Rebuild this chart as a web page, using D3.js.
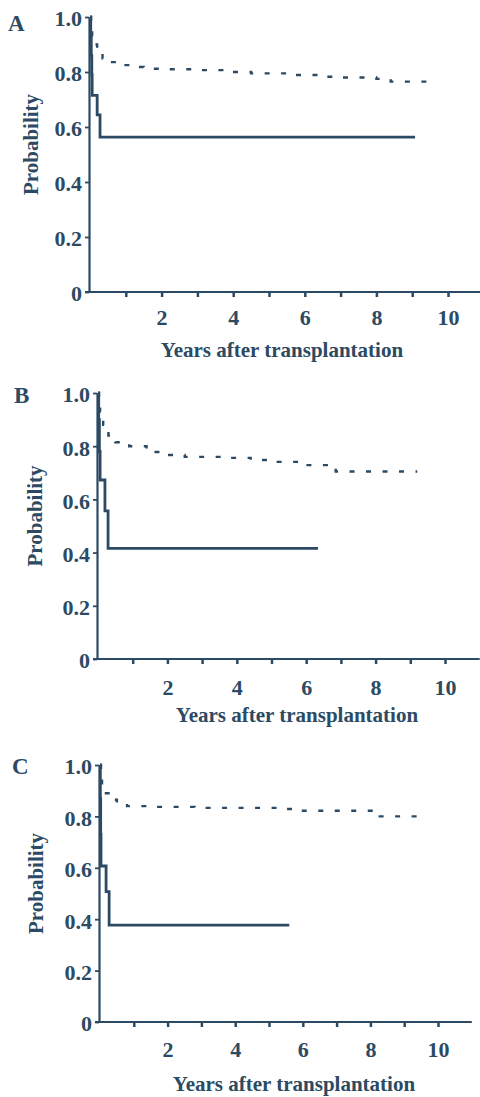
<!DOCTYPE html>
<html><head><meta charset="utf-8">
<script src="https://cdn.jsdelivr.net/npm/d3@7"></script>
<style>
body{margin:0;background:#fff}
svg{display:block}
text{font-family:"Liberation Serif","Times New Roman",serif;font-weight:bold;fill:#2c4a63}
</style>
</head><body><svg id="c" width="480" height="1097"></svg>
<script>
// ---- data ----
const panelLetters = ["A", "B", "C"];
const xTickValues = [1, 2, 3, 4, 5, 6, 7, 8, 9, 10];
const xTickLabels = ["", "2", "", "4", "", "6", "", "8", "", "10"];
const yTickValues = [0, 0.2, 0.4, 0.6, 0.8, 1.0];
const yTickLabels = ["0", "0.2", "0.4", "0.6", "0.8", "1.0"];
const xTitle = "Years after transplantation";
const yTitle = "Probability";

// Panel A
const solidA_years = [0, 0.02, 0.035, 0.05, 0.06, 0.2, 0.28, 9.08];
const solidA_prob  = [1.0, 0.93, 0.86, 0.79, 0.715, 0.644, 0.563, 0.563];
const dashA_years = [0, 0.03, 0.06, 0.1, 0.2, 0.35, 0.55, 0.8, 1.1, 1.5, 2.0, 3.0, 3.8, 4.5, 5.5, 6.5, 7.0, 8.0, 8.4, 9.5];
const dashA_prob  = [1.0, 0.96, 0.93, 0.90, 0.87, 0.85, 0.836, 0.825, 0.818, 0.812, 0.81, 0.807, 0.80, 0.795, 0.789, 0.783, 0.78, 0.775, 0.765, 0.765];

// Panel B
const solidB_years = [0, 0.02, 0.04, 0.06, 0.2, 0.29, 6.34];
const solidB_prob  = [1.0, 0.9, 0.78, 0.673, 0.557, 0.416, 0.416];
const dashB_years = [0, 0.03, 0.06, 0.15, 0.3, 0.5, 0.9, 1.4, 1.8, 2.5, 3.6, 4.4, 5.1, 5.8, 6.85, 9.2];
const dashB_prob  = [1.0, 0.96, 0.93, 0.88, 0.84, 0.815, 0.80, 0.778, 0.767, 0.76, 0.756, 0.748, 0.741, 0.729, 0.705, 0.705];

// Panel C
const solidC_years = [0, 0.01, 0.02, 0.03, 0.18, 0.27, 5.6];
const solidC_prob  = [1.0, 0.87, 0.73, 0.607, 0.507, 0.377, 0.377];
const dashC_years = [0, 0.03, 0.06, 0.1, 0.3, 0.5, 0.8, 1.4, 2.8, 5.4, 5.8, 8.1, 9.7];
const dashC_prob  = [1.0, 0.95, 0.92, 0.89, 0.865, 0.85, 0.84, 0.837, 0.833, 0.829, 0.822, 0.80, 0.80];

// ---- layout ----
const panels = [
  {letter: panelLetters[0], left: 90, pxPerYear: 35.8, top: 17, bottom: 292,
   solid: [solidA_years, solidA_prob], dash: [dashA_years, dashA_prob],
   letterPos: [8, 31], yTitleX: 38, titleX: 282, titleY: 357, tickLabelDy: 33},
  {letter: panelLetters[1], left: 98, pxPerYear: 34.7, top: 393, bottom: 659,
   solid: [solidB_years, solidB_prob], dash: [dashB_years, dashB_prob],
   letterPos: [14, 403], yTitleX: 42, titleX: 297, titleY: 722, tickLabelDy: 36},
  {letter: panelLetters[2], left: 100, pxPerYear: 33.8, top: 765, bottom: 1022,
   solid: [solidC_years, solidC_prob], dash: [dashC_years, dashC_prob],
   letterPos: [12, 774], yTitleX: 43, titleX: 294, titleY: 1091, tickLabelDy: 35}
];

const color = "#2c4a63";
const svg = d3.select("#c");

panels.forEach(p => {
  const x = d3.scaleLinear().domain([0, 11]).range([p.left, p.left + 11 * p.pxPerYear]);
  const y = d3.scaleLinear().domain([0, 1]).range([p.bottom, p.top]);
  const g = svg.append("g");

  // x axis
  const xa = g.append("g").attr("transform", `translate(0,${p.bottom})`)
    .call(d3.axisBottom(x).tickValues(xTickValues)
      .tickFormat((d, i) => xTickLabels[i]).tickSize(5).tickSizeOuter(0).tickPadding(12));
  xa.select(".domain").remove();
  xa.selectAll(".tick line").attr("stroke", color).attr("stroke-width", 2.5);
  xa.selectAll(".tick text").style("font-size", "22px").style("font-family", null)
    .attr("fill", color).attr("y", null).attr("dy", null)
    .attr("transform", `translate(0,${p.tickLabelDy})`);
  g.append("line").attr("x1", x(0) - 5).attr("x2", x(11)).attr("y1", p.bottom).attr("y2", p.bottom)
    .attr("stroke", color).attr("stroke-width", 2.2);

  // y axis
  const ya = g.append("g").attr("transform", `translate(${p.left - 1},0)`)
    .call(d3.axisLeft(y).tickValues(yTickValues)
      .tickFormat((d, i) => yTickLabels[i]).tickSize(4).tickSizeOuter(0).tickPadding(3));
  ya.select(".domain").attr("stroke", color).attr("stroke-width", 2.2);
  ya.selectAll(".tick line").attr("stroke", color).attr("stroke-width", 1.8);
  ya.selectAll(".tick text").style("font-size", "22px").style("font-family", null)
    .attr("fill", color).attr("dy", "0.4em");

  // curves
  const line = d3.line().curve(d3.curveStepAfter).x(d => x(d[0])).y(d => y(d[1]));
  const solidPts = p.solid[0].map((t, i) => [t, p.solid[1][i]]);
  const dashPts = p.dash[0].map((t, i) => [t, p.dash[1][i]]);
  g.append("path").datum(dashPts).attr("d", line).attr("fill", "none")
    .attr("stroke", color).attr("stroke-width", 2.4).attr("stroke-dasharray", "5,11.5");
  g.append("path").datum(solidPts).attr("d", line).attr("fill", "none")
    .attr("stroke", color).attr("stroke-width", 2.8);

  // titles
  g.append("text").attr("x", p.letterPos[0]).attr("y", p.letterPos[1])
    .style("font-size", "23px").text(p.letter);
  g.append("text").attr("transform", `translate(${p.yTitleX},${(p.top + p.bottom) / 2 - 10}) rotate(-90)`)
    .attr("text-anchor", "middle").style("font-size", "21px").text(yTitle);
  g.append("text").attr("x", p.titleX).attr("y", p.titleY).attr("text-anchor", "middle")
    .style("font-size", "21px").text(xTitle);
});
</script>
</body></html>
